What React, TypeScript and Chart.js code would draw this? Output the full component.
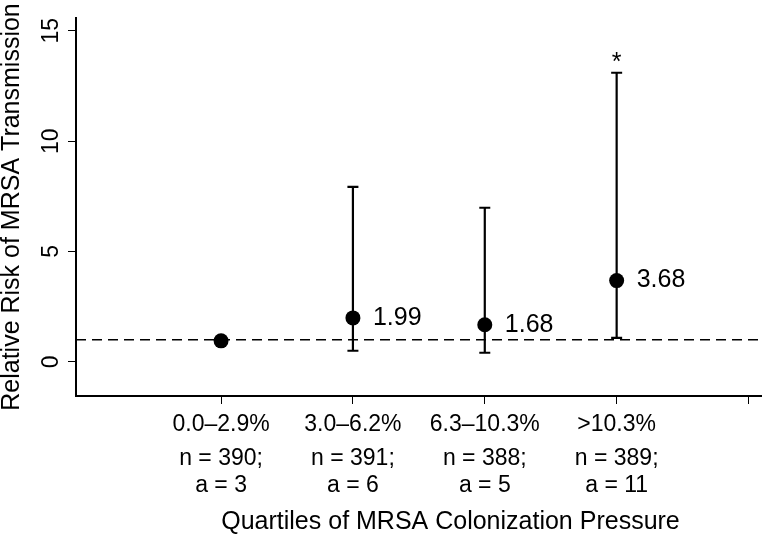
import React, { useEffect, useRef } from 'react';
import { Chart, registerables } from 'chart.js';

Chart.register(...registerables);

const FONT = "'Liberation Sans', Arial, Helvetica, sans-serif";

// ---- data ----
const categories = ['0.0–2.9%', '3.0–6.2%', '6.3–10.3%', '>10.3%'];
const nLabels = ['n = 390;', 'n = 391;', 'n = 388;', 'n = 389;'];
const aLabels = ['a = 3', 'a = 6', 'a = 5', 'a = 11'];
const xPositions = [1, 2, 3, 4];
const xTickValues = [1, 2, 3, 4, 5];
const yTickValues = [0, 5, 10, 15];
const relativeRisk = [0.95, 1.99, 1.68, 3.68];
const ciLower: (number | null)[] = [null, 0.5, 0.41, 1.08];
const ciUpper: (number | null)[] = [null, 7.93, 6.98, 13.1];
const valueLabels = ['', '1.99', '1.68', '3.68'];
const significance = ['', '', '', '*'];
const referenceLine = 1;

const annotate = {
  id: 'annotate',
  beforeDatasetsDraw(chart: any) {
    const { ctx, chartArea, scales } = chart;
    const xs = scales.x;
    const ys = scales.y;
    ctx.save();
    // reference line
    ctx.strokeStyle = '#000';
    ctx.lineWidth = 1.5;
    ctx.setLineDash([10, 6]);
    const yr = ys.getPixelForValue(referenceLine);
    ctx.beginPath();
    ctx.moveTo(chartArea.left, yr);
    ctx.lineTo(chartArea.right, yr);
    ctx.stroke();
    ctx.setLineDash([]);
    // error bars
    ctx.lineWidth = 2.2;
    xPositions.forEach((xv, i) => {
      const lo = ciLower[i];
      const hi = ciUpper[i];
      if (lo == null || hi == null) return;
      const px = xs.getPixelForValue(xv);
      const pl = ys.getPixelForValue(lo);
      const ph = ys.getPixelForValue(hi);
      ctx.beginPath();
      ctx.moveTo(px, pl);
      ctx.lineTo(px, ph);
      ctx.moveTo(px - 5.5, pl);
      ctx.lineTo(px + 5.5, pl);
      ctx.moveTo(px - 5.5, ph);
      ctx.lineTo(px + 5.5, ph);
      ctx.stroke();
    });
    ctx.restore();
  },
  afterDraw(chart: any) {
    const { ctx, scales } = chart;
    const xs = scales.x;
    const ys = scales.y;
    ctx.save();
    ctx.fillStyle = '#000';
    // value labels and significance marks
    xPositions.forEach((xv, i) => {
      const px = xs.getPixelForValue(xv);
      const py = ys.getPixelForValue(relativeRisk[i]);
      if (valueLabels[i]) {
        ctx.font = `25px ${FONT}`;
        ctx.textAlign = 'left';
        ctx.textBaseline = 'middle';
        ctx.fillText(valueLabels[i], px + 20, py);
      }
      const hi = ciUpper[i];
      if (significance[i] && hi != null) {
        ctx.font = `25px ${FONT}`;
        ctx.textAlign = 'center';
        ctx.textBaseline = 'alphabetic';
        ctx.fillText(significance[i], px, ys.getPixelForValue(hi) - 3);
      }
    });
    // x category labels
    ctx.font = `23px ${FONT}`;
    ctx.textAlign = 'center';
    ctx.textBaseline = 'middle';
    xPositions.forEach((xv, i) => {
      const px = xs.getPixelForValue(xv);
      ctx.fillText(categories[i], px, 425);
      ctx.fillText(nLabels[i], px, 459);
      ctx.fillText(aLabels[i], px, 486);
    });
    // y tick labels (rotated, parallel to axis)
    ctx.font = `23px ${FONT}`;
    ctx.textAlign = 'center';
    ctx.textBaseline = 'alphabetic';
    yTickValues.forEach((v) => {
      const py = ys.getPixelForValue(v);
      ctx.save();
      ctx.translate(58, py);
      ctx.rotate(-Math.PI / 2);
      ctx.fillText(String(v), 0, 0);
      ctx.restore();
    });
    ctx.restore();
  },
};

export default function App() {
  const ref = useRef<HTMLCanvasElement | null>(null);
  useEffect(() => {
    if (!ref.current) return;
    const chart = new Chart(ref.current, {
      type: 'scatter',
      data: {
        datasets: [
          {
            data: xPositions.map((x, i) => ({ x, y: relativeRisk[i] })),
            backgroundColor: '#000',
            borderColor: '#000',
            borderWidth: 0,
            pointRadius: 7.5,
            pointHoverRadius: 7.5,
          },
        ],
      },
      options: {
        animation: false,
        responsive: false,
        devicePixelRatio: 1,
        layout: { autoPadding: false, padding: { top: 18, right: 0, bottom: 0, left: 0 } },
        plugins: { legend: { display: false }, tooltip: { enabled: false } },
        scales: {
          x: {
            type: 'linear',
            min: -0.1,
            max: 5.58,
            afterBuildTicks: (s: any) => {
              s.ticks = xTickValues.map((v) => ({ value: v }));
            },
            afterFit: (s: any) => {
              s.height = 139;
            },
            ticks: { display: false },
            grid: { drawOnChartArea: false, drawTicks: true, tickLength: 8, color: '#000', lineWidth: 1 },
            border: { display: true, color: '#000', width: 2 },
            title: {
              display: true,
              text: 'Quartiles of MRSA Colonization Pressure',
              font: { size: 25, lineHeight: 1, family: FONT },
              color: '#000',
              padding: 0,
            },
          },
          y: {
            type: 'linear',
            min: -1.55,
            max: 15.58,
            afterBuildTicks: (s: any) => {
              s.ticks = yTickValues.map((v) => ({ value: v }));
            },
            afterFit: (s: any) => {
              s.width = 76;
            },
            ticks: { display: false },
            grid: { drawOnChartArea: false, drawTicks: true, tickLength: 8, color: '#000', lineWidth: 1 },
            border: { display: true, color: '#000', width: 2 },
            title: {
              display: true,
              text: 'Relative Risk of MRSA Transmission',
              font: { size: 25, lineHeight: 1, family: FONT },
              color: '#000',
              padding: 0,
            },
          },
        },
      },
      plugins: [annotate],
    });
    return () => chart.destroy();
  }, []);
  return (
    <div style={{ position: 'fixed', left: 0, top: 0, width: 762, height: 535, overflow: 'hidden', background: '#fff' }}>
      <canvas ref={ref} width={825} height={535} style={{ display: 'block', width: 825, height: 535 }} />
    </div>
  );
}
